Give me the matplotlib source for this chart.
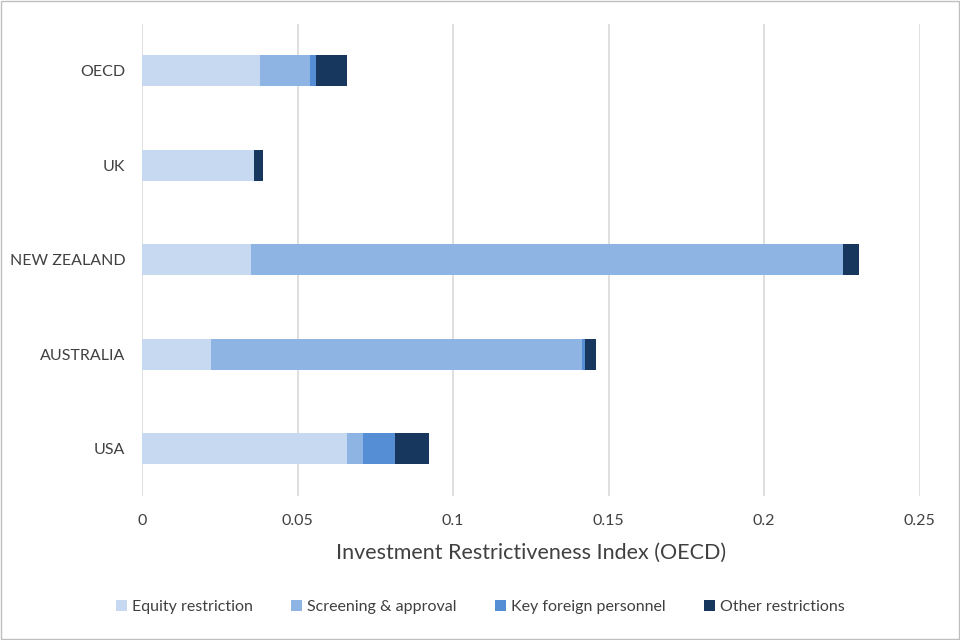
import matplotlib.pyplot as plt
import numpy as np

plt.rcParams['font.family'] = ['Lato', 'DejaVu Sans']

# Datos (de abajo hacia arriba)
paises = ['USA', 'AUSTRALIA', 'NEW ZEALAND', 'UK', 'OECD']
equity = [0.066, 0.022, 0.035, 0.036, 0.038]
screening = [0.005, 0.1193, 0.1904, 0.0, 0.0161]
personnel = [0.0102, 0.001, 0.0, 0.0, 0.0018]
other = [0.011, 0.0037, 0.005, 0.0029, 0.010]

series = [
    ('Equity restriction', equity, '#C6D9F1'),
    ('Screening & approval', screening, '#8EB4E3'),
    ('Key foreign personnel', personnel, '#558ED5'),
    ('Other restrictions', other, '#17375E'),
]

fig = plt.figure(figsize=(9.6, 6.4), dpi=100)
ax = fig.add_axes([0.148, 0.225, 0.81, 0.738])

y = np.arange(len(paises))
left = np.zeros(len(paises))
for nombre, vals, color in series:
    ax.barh(y, vals, left=left, height=0.33, color=color, label=nombre, zorder=3)
    left += np.array(vals)

ax.set_xlim(0, 0.25)
ax.set_ylim(-0.5, len(paises) - 0.5)
ax.set_yticks(y)
ax.set_yticklabels(paises, fontsize=11.5, color='#404040')
ax.set_xticks([0, 0.05, 0.1, 0.15, 0.2, 0.25])
ax.set_xticklabels(['0', '0.05', '0.1', '0.15', '0.2', '0.25'], fontsize=11.5, color='#404040')
ax.tick_params(axis='y', length=0, pad=12)
ax.tick_params(axis='x', length=0, pad=13)
ax.grid(axis='x', color='#D9D9D9', linewidth=1.2, zorder=0)
for s in ax.spines.values():
    s.set_visible(False)
ax.set_xlabel('Investment Restrictiveness Index (OECD)', fontsize=15.5, color='#404040', labelpad=11)

fig.legend(loc='center', bbox_to_anchor=(0.5, 0.052), ncol=4, frameon=False,
           fontsize=11.5, handlelength=0.7, handleheight=0.7, handletextpad=0.3,
           columnspacing=2.4, labelcolor='#404040')

# Borde exterior
fig.patches.append(plt.Rectangle((0.001, 0.001), 0.998, 0.998, transform=fig.transFigure,
                                 fill=False, edgecolor='#BFBFBF', linewidth=1))

plt.savefig('out.png', dpi=100)
plt.close()
